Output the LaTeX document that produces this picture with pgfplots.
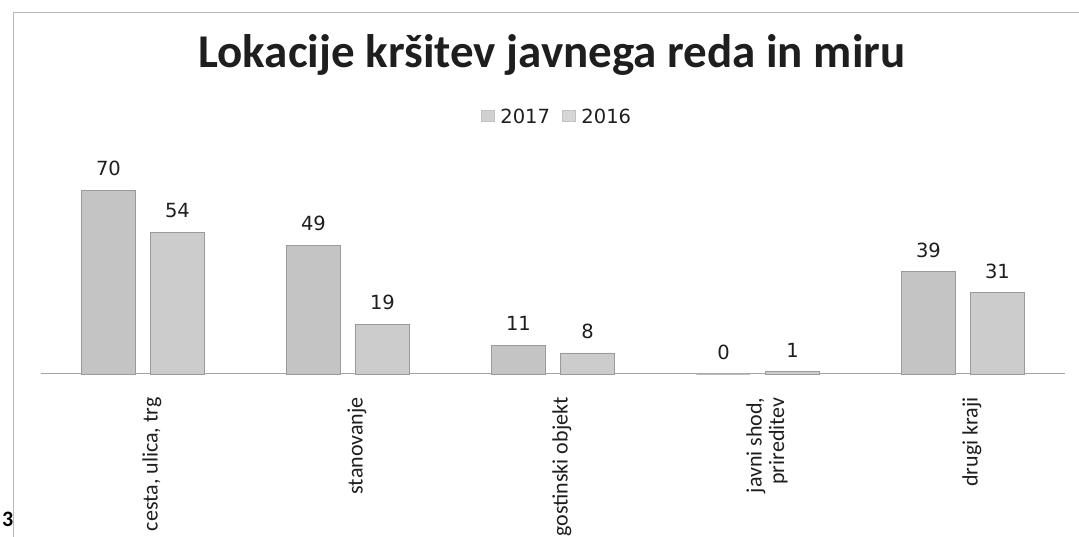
\documentclass[border=0pt]{standalone}
\usepackage{pgfplots}
\pgfplotsset{compat=1.18}
\usepackage{fontspec}
\setmainfont{Carlito}
\newfontfamily\dv{DejaVu Sans}
\definecolor{barA}{HTML}{C4C4C4}
\definecolor{barB}{HTML}{CCCCCC}
\definecolor{edge}{HTML}{9A9A9A}
\definecolor{txt}{HTML}{1E1E1E}
\begin{document}
\begin{tikzpicture}
\path[use as bounding box] (0,0) rectangle (1079pt,537pt);
\draw[gray!55, line width=1pt] (13pt,0) -- (13pt,524pt) -- (1079pt,524pt);
\node[anchor=base, font=\fontsize{47}{52}\selectfont\bfseries, text=txt] at (552pt,469pt) {Lokacije kršitev javnega reda in miru};
\node[anchor=base west, font=\fontsize{22}{24}\selectfont\bfseries, inner sep=0] at (2pt,10pt) {3};
\begin{axis}[
  at={(40.5pt,163pt)}, anchor=south west,
  scale only axis, width=1025pt, height=210pt,
  xmin=-0.5, xmax=4.5, ymin=0, ymax=80,
  ybar=15pt, bar width=54pt,
  axis x line*=bottom, axis y line=none,
  axis line style={draw=gray!70, line width=1pt, -},
  xtick={0,1,2,3,4}, xtick style={draw=none},
  xticklabels={{cesta, ulica, trg},stanovanje,gostinski objekt,{javni shod,\\prireditev},drugi kraji},
  xticklabel style={yshift=-19pt, xshift=9pt, rotate=90, anchor=east, inner sep=0pt, align=right, font=\fontsize{22}{22.5}\selectfont, text=txt},
  ytick=\empty,
  clip=false,
  /pgf/number format/assume math mode=true,
  nodes near coords,
  every node near coord/.append style={font=\dv\fontsize{19.5}{20}\selectfont, text=txt, anchor=south, inner sep=0pt, yshift=14pt},
  legend columns=2,
  legend style={at={(0.504,1.224)}, anchor=center, draw=none, fill=none, font=\dv\fontsize{19.5}{20}\selectfont, text=txt,
    /tikz/every even column/.append style={column sep=10pt},
    /tikz/every odd column/.append style={column sep=4pt}},
  legend image code/.code={\draw[#1, draw=edge!60, fill opacity=0.8] (0pt,-4pt) rectangle (13pt,7pt);},
]
\addplot[fill=barA, draw=edge] coordinates {(0,70) (1,49) (2,11) (3,0) (4,39)};
\addplot[fill=barB, draw=edge] coordinates {(0,54) (1,19) (2,8) (3,1) (4,31)};
\legend{2017,2016}
\end{axis}
\end{tikzpicture}
\end{document}
